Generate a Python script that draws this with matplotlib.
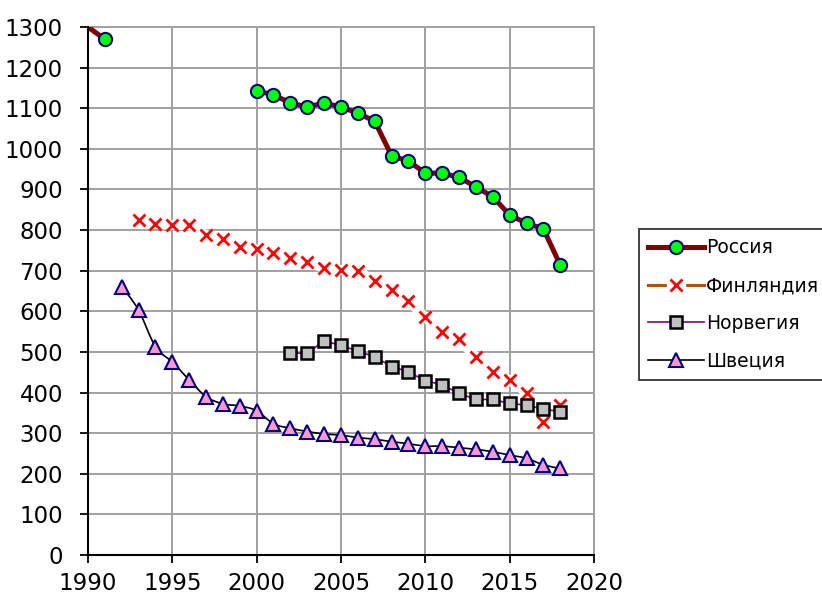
import numpy as np
import matplotlib
matplotlib.use("Agg")
import matplotlib.pyplot as plt
from matplotlib.path import Path
from matplotlib.patches import PathPatch
from matplotlib.lines import Line2D
from matplotlib.legend_handler import HandlerTuple

plt.rcParams["font.family"] = ["DejaVu Sans"]

nan = np.nan

# ---- data ------------------------------------------------------------
russia_years = list(range(1990, 2019))
russia = [1300, 1270] + [nan] * 8 + [1143, 1133, 1113, 1103, 1113, 1103, 1088, 1068,
                                     983, 970, 940, 940, 930, 906, 882, 837, 817, 803, 714]

finland_years = list(range(1993, 2019))
finland = [825, 815, 812, 812, 788, 778, 758, 753, 743, 731, 722, 706, 702,
           699, 675, 653, 626, 585, 550, 531, 487, 451, 431, 400, 328, 370]

norway_years = list(range(2002, 2019))
norway = [497, 497, 527, 516, 502, 488, 464, 451, 429, 419, 398, 383, 383,
          373, 369, 359, 353]

sweden_years = list(range(1992, 2019))
sweden = [661, 603, 513, 475, 431, 390, 372, 367, 355, 323, 312, 304, 298,
          295, 289, 285, 279, 274, 268, 268, 264, 260, 254, 246, 238, 222, 213]

labels = ["Россия", "Финляндия", "Норвегия", "Швеция"]


def smooth_path(x, y):
    """Excel-like smoothed line as cubic Bezier segments through the points."""
    pts = np.column_stack([x, y]).astype(float)
    n = len(pts)
    verts, codes = [pts[0]], [Path.MOVETO]
    for i in range(n - 1):
        p0 = pts[i - 1] if i > 0 else pts[i]
        p1, p2 = pts[i], pts[i + 1]
        p3 = pts[i + 2] if i + 2 < n else pts[i + 1]
        verts += [p1 + (p2 - p0) / 6, p2 - (p3 - p1) / 6, p2]
        codes += [Path.CURVE4] * 3
    return Path(verts, codes)


fig = plt.figure(figsize=(8.22, 5.97), dpi=100)
ax = fig.add_axes([0.107, 0.0704, 0.6156, 0.8844])

GRID = "#A0A0A0"
ax.set_xlim(1990, 2020)
ax.set_ylim(0, 1300)
ax.set_xticks(range(1990, 2021, 5))
ax.set_yticks(range(0, 1301, 100))
ax.grid(True, color=GRID, lw=1.4, zorder=0)
ax.set_axisbelow(True)
for s in ("top", "right"):
    ax.spines[s].set_color(GRID)
    ax.spines[s].set_linewidth(1.4)
for s in ("left", "bottom"):
    ax.spines[s].set_color("black")
    ax.spines[s].set_linewidth(1.5)
    ax.spines[s].set_zorder(6)
ax.tick_params(axis="both", direction="out", length=6, width=1.3, labelsize=16.5)
ax.tick_params(axis="y", pad=12)
ax.tick_params(axis="x", pad=6)

# Russia
ax.plot(russia_years, russia, color="#800000", lw=3.6, marker="o", ms=9.5,
        mfc="#00FF00", mec="#000080", mew=1.5, zorder=3,
        markevery=list(range(1, len(russia))))

# Finland: white band under the crosses, no visible line
ax.plot(finland_years, finland, color="white", lw=7, solid_capstyle="butt", zorder=2.5)
ax.plot(finland_years, finland, ls="none", marker="x", ms=9, mec="red", mew=2, zorder=3)

# Norway
ax.plot(norway_years, norway, color="#800080", lw=1.2, marker="s", ms=9,
        mfc="#C0C0C0", mec="black", mew=1.8, zorder=4)

# Sweden (smoothed line)
ax.add_patch(PathPatch(smooth_path(sweden_years, sweden), fill=False,
                       edgecolor="black", lw=1.2, zorder=4.5))
ax.plot(sweden_years, sweden, ls="none", marker="^", ms=9.5,
        mfc="#FF99CC", mec="#000080", mew=1.5, zorder=5)

# ---- legend ---------------------------------------------------------
h_ru = Line2D([], [], color="#800000", lw=3.6, marker="o", ms=9.5,
              mfc="#00FF00", mec="#000080", mew=1.5)
h_fi = (Line2D([], [], color="#B5500F", lw=2.2),
        Line2D([], [], ls="none", marker="s", ms=13, mfc="white", mec="white"),
        Line2D([], [], ls="none", marker="x", ms=9, mec="red", mew=2))
h_no = Line2D([], [], color="#800080", lw=1.2, marker="s", ms=9,
              mfc="#C0C0C0", mec="black", mew=1.8)
h_sw = Line2D([], [], color="black", lw=1.2, marker="^", ms=9.5,
              mfc="#FF99CC", mec="#000080", mew=1.5)

leg = fig.legend([h_ru, h_fi, h_no, h_sw], labels, loc="upper left",
                 bbox_to_anchor=(0.777, 0.6164), bbox_transform=fig.transFigure,
                 borderaxespad=0, fontsize=13.5, handlelength=3.0, handletextpad=0.08,
                 labelspacing=1.0, borderpad=0.5, fancybox=False, frameon=True,
                 numpoints=1, handler_map={tuple: HandlerTuple(ndivide=1)})
leg.get_frame().set_edgecolor("black")
leg.get_frame().set_linewidth(1.3)

fig.savefig("out.png", dpi=100)
